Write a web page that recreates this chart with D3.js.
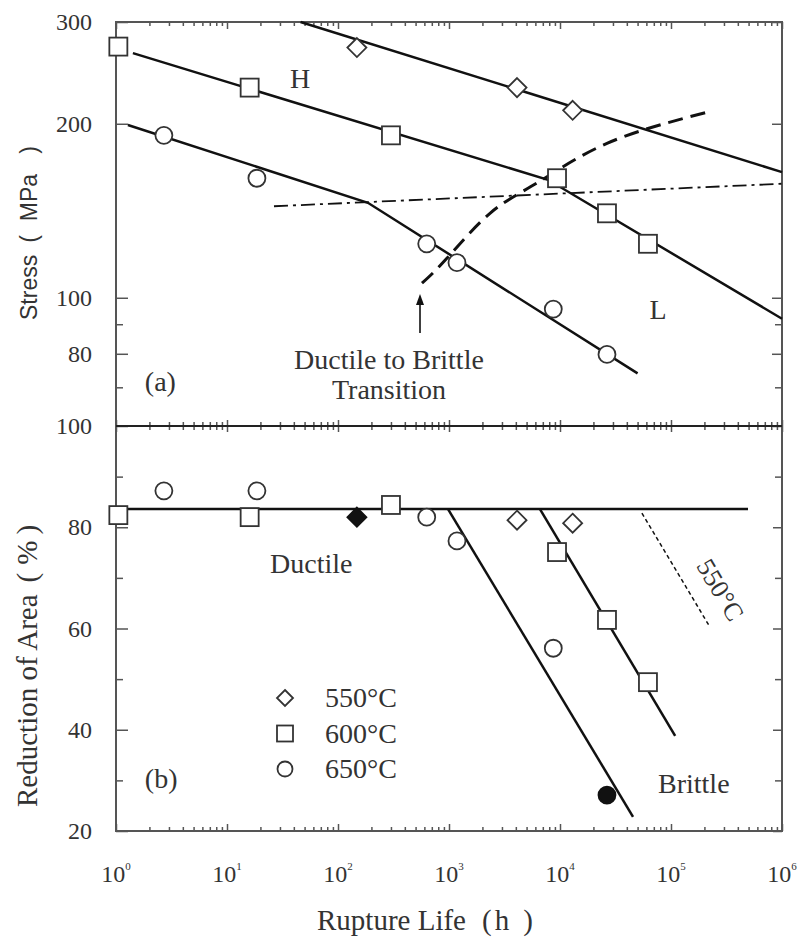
<!DOCTYPE html>
<html><head><meta charset="utf-8">
<script src="https://cdn.jsdelivr.net/npm/d3@7"></script>
<style>body{margin:0;background:#fff}</style>
</head><body>
<svg id="c" width="798" height="937"></svg>
<script>
// ---------- data ----------
const xMajorTicks = [1, 10, 100, 1000, 10000, 100000, 1000000];
const xExponents = ["0", "1", "2", "3", "4", "5", "6"];
const stressTickLabels = [300, 200, 100, 80];
const stressMinorTicks = [90, 70];
const raTickLabels = [100, 80, 60, 40, 20];
const raMinorTicks = [90, 70, 50, 30];
const tempLabels = ["550°C", "600°C", "650°C"];

// (a) stress vs rupture life  [hours, MPa]
const stress550 = [[148, 271], [4100, 231], [13000, 211]];
const stress600 = [[1.05, 272], [16, 231], [300, 191], [9400, 161], [26500, 140], [62000, 124]];
const stress650 = [[2.7, 191], [18.6, 161], [630, 124], [1180, 115], [8700, 95.6], [26500, 79.8]];
const fit550 = [[46, 300], [1000000, 165]];
const fit600 = [[1.42, 265], [7800, 160], [1000000, 92]];
const fit650 = [[1.28, 199], [186, 146], [50000, 74]];
const hlBoundary = [[26.5, 144], [1000000, 157.5]];
const transitionCurve = [[571, 106], [957, 117], [2340, 140], [6210, 158], [26500, 185], [203000, 209]];
const transitionArrow = [[548, 86.9], [548, 101.5]];

// (b) reduction of area vs rupture life  [hours, %]
const ra550 = [[4100, 81.4], [13000, 80.8]];
const ra550Filled = [[148, 82.0]];
const ra600 = [[1.05, 82.4], [16, 82.0], [300, 84.4], [9400, 75.1], [26500, 61.7], [62000, 49.4]];
const ra650 = [[2.7, 87.2], [18.6, 87.2], [630, 82.0], [1180, 77.3], [8700, 56.1]];
const ra650Filled = [[26500, 27.1]];
const ductileLine = [[1, 83.6], [494000, 83.6]];
const brittle650 = [[980, 83.6], [45500, 22.8]];
const brittle600 = [[6600, 83.6], [109000, 38.8]];
const brittle550 = [[54700, 82.8], [224000, 60.3]];

// ---------- layout ----------
const L = 116, R = 782, T = 22, MID = 426, B = 831;
const serif = "'Liberation Serif','Times New Roman',serif";
const sans = "'Liberation Sans',Arial,sans-serif";
const ink = "#333", axisC = "#555", lineC = "#111";

const x = d3.scaleLog().domain([1, 1e6]).range([L, R]);
const yS = d3.scaleLog().domain([60, 300]).range([MID, T]);
const yR = d3.scaleLinear().domain([20, 100]).range([B, MID]);

const svg = d3.select("#c");
svg.append("rect").attr("width", 798).attr("height", 937).attr("fill", "#fff");

const xMinor = [];
for (let k = 0; k < 6; k++) for (let m = 2; m <= 9; m++) xMinor.push(m * Math.pow(10, k));

function styleAxis(g, size) {
  g.select(".domain").remove();
  g.selectAll("line").attr("stroke", axisC).attr("stroke-width", 1.5);
  g.selectAll("text").attr("font-family", serif).attr("font-size", size || 24).attr("fill", ink);
}
function addAxis(axis, tx, ty, size) {
  const g = svg.append("g").attr("transform", `translate(${tx},${ty})`).call(axis);
  styleAxis(g, size);
  return g;
}
// x ticks: top (down), middle (both), bottom (up)
addAxis(d3.axisBottom(x).tickValues(xMajorTicks).tickSize(7).tickFormat(""), 0, T);
addAxis(d3.axisBottom(x).tickValues(xMinor).tickSize(4).tickFormat(""), 0, T);
addAxis(d3.axisBottom(x).tickValues(xMajorTicks).tickSize(6).tickFormat(""), 0, MID);
addAxis(d3.axisTop(x).tickValues(xMajorTicks).tickSize(6).tickFormat(""), 0, MID);
addAxis(d3.axisBottom(x).tickValues(xMinor).tickSize(4).tickFormat(""), 0, MID);
addAxis(d3.axisTop(x).tickValues(xMinor).tickSize(4).tickFormat(""), 0, MID);
addAxis(d3.axisTop(x).tickValues(xMajorTicks).tickSize(7).tickFormat(""), 0, B);
addAxis(d3.axisTop(x).tickValues(xMinor).tickSize(4).tickFormat(""), 0, B);

// y ticks top panel
addAxis(d3.axisLeft(yS).tickValues(stressTickLabels).tickSize(-12).tickPadding(24).tickFormat(d3.format("d")), L, 0);
addAxis(d3.axisLeft(yS).tickValues(stressMinorTicks).tickSize(-7).tickFormat(""), L, 0);
addAxis(d3.axisLeft(yS).tickValues(stressTickLabels).tickSize(10).tickFormat(""), R, 0);
addAxis(d3.axisLeft(yS).tickValues(stressMinorTicks).tickSize(7).tickFormat(""), R, 0);
// y ticks bottom panel
addAxis(d3.axisLeft(yR).tickValues(raTickLabels).tickSize(-12).tickPadding(24).tickFormat(d3.format("d")), L, 0);
addAxis(d3.axisLeft(yR).tickValues(raMinorTicks).tickSize(-7).tickFormat(""), L, 0);
addAxis(d3.axisLeft(yR).tickValues(raTickLabels).tickSize(9).tickFormat(""), R, 0);
addAxis(d3.axisLeft(yR).tickValues(raMinorTicks).tickSize(7).tickFormat(""), R, 0);

// frame
svg.append("rect").attr("x", L).attr("y", T).attr("width", R - L).attr("height", B - T)
  .attr("fill", "none").attr("stroke", axisC).attr("stroke-width", 2);
svg.append("line").attr("x1", L).attr("x2", R).attr("y1", MID).attr("y2", MID)
  .attr("stroke", "#222").attr("stroke-width", 2);

// x tick labels 10^n
xMajorTicks.forEach((v, i) => {
  const t = svg.append("text").attr("x", x(v)).attr("y", 882).attr("text-anchor", "middle")
    .attr("font-family", serif).attr("font-size", 24).attr("fill", ink);
  t.append("tspan").text("10");
  t.append("tspan").attr("font-size", 11).attr("dy", -12).text(xExponents[i]);
});

// ---------- marks ----------
function drawLine(data, yScale, opts) {
  const gen = d3.line().x(d => x(d[0])).y(d => yScale(d[1]));
  if (opts.curve) gen.curve(opts.curve);
  svg.append("path").attr("d", gen(data)).attr("fill", "none")
    .attr("stroke", lineC).attr("stroke-width", opts.w || 2.5)
    .attr("stroke-dasharray", opts.dash || null);
}
function drawMarkers(data, yScale, shape, filled, sz) {
  const g = svg.append("g");
  data.forEach(d => drawShape(g, x(d[0]), yScale(d[1]), shape, filled, sz));
}
function drawShape(g, cx, cy, shape, filled, sz) {
  const fill = filled ? "#111" : "#fff";
  const stroke = filled ? "#111" : "#333";
  let el;
  if (shape === "square") {
    const s = sz || 18;
    el = g.append("rect").attr("x", cx - s / 2).attr("y", cy - s / 2).attr("width", s).attr("height", s);
  } else if (shape === "circle") {
    el = g.append("circle").attr("cx", cx).attr("cy", cy).attr("r", sz || 8.5);
  } else {
    const h = sz || 9.5;
    el = g.append("path").attr("d", `M${cx},${cy - h}L${cx + h},${cy}L${cx},${cy + h}L${cx - h},${cy}Z`);
  }
  el.attr("fill", fill).attr("stroke", stroke).attr("stroke-width", 1.8);
}

// panel (a)
drawLine(fit550, yS, {});
drawLine(fit600, yS, {});
drawLine(fit650, yS, {});
drawLine(hlBoundary, yS, { w: 1.8, dash: "14,5,3,5" });
drawLine(transitionCurve, yS, { w: 3, dash: "15,8", curve: d3.curveNatural });
drawMarkers(stress550, yS, "diamond", false);
drawMarkers(stress600, yS, "square", false);
drawMarkers(stress650, yS, "circle", false);

// arrow
(function () {
  const ax = x(transitionArrow[0][0]);
  const y0 = yS(transitionArrow[0][1]), y1 = yS(transitionArrow[1][1]);
  svg.append("line").attr("x1", ax).attr("x2", ax).attr("y1", y0).attr("y2", y1 + 8)
    .attr("stroke", lineC).attr("stroke-width", 1.6);
  svg.append("path").attr("d", `M${ax},${y1}L${ax + 4},${y1 + 11}L${ax - 4},${y1 + 11}Z`).attr("fill", lineC);
})();

// panel (b)
drawLine(ductileLine, yR, {});
drawLine(brittle650, yR, {});
drawLine(brittle600, yR, {});
drawLine(brittle550, yR, { w: 1.5, dash: "4,3" });
drawMarkers(ra550, yR, "diamond", false);
drawMarkers(ra550Filled, yR, "diamond", true);
drawMarkers(ra600, yR, "square", false);
drawMarkers(ra650, yR, "circle", false);
drawMarkers(ra650Filled, yR, "circle", true);

// ---------- annotations ----------
function label(txt, px, py, size, anchor, font) {
  return svg.append("text").attr("x", px).attr("y", py).attr("text-anchor", anchor || "start")
    .attr("font-family", font || serif).attr("font-size", size).attr("fill", ink).text(txt);
}
label("H", x(45.5), yS(231), 28, "middle");
label("L", x(76400), yS(91.9), 28, "middle");
label("Ductile to Brittle", x(288), yS(75.2), 28, "middle");
label("Transition", x(288), yS(66.7), 28, "middle");
label("(a)", x(1.82), yS(68.9), 28);
label("(b)", x(1.82), yR(28.5), 28);
label("Ductile", x(24.4), yR(71.0), 28);
label("Brittle", x(76400), yR(27.5), 28);
svg.append("text").attr("transform", `translate(${x(277000)},${yR(67.6)}) rotate(59)`)
  .attr("text-anchor", "middle").attr("dominant-baseline", "central")
  .attr("font-family", serif).attr("font-size", 26).attr("fill", ink).text("550°C");

// legend
const legendShapes = ["diamond", "square", "circle"];
const legendSizes = [8, 16, 7.5];
const lg = svg.append("g");
tempLabels.forEach((t, i) => {
  const cy = 698 + i * 35.5;
  drawShape(lg, 285, cy, legendShapes[i], false, legendSizes[i]);
  lg.append("text").attr("x", 325).attr("y", cy + 9).attr("font-family", serif)
    .attr("font-size", 28).attr("fill", ink).text(t);
});

// axis titles
(function () {
  const t = svg.append("text").attr("font-family", serif).attr("font-size", 29).attr("fill", ink)
    .attr("x", 317).attr("y", 930);
  t.append("tspan").text("Rupture Life");
  t.append("tspan").attr("dx", 16).text("(");
  t.append("tspan").attr("dx", 3).text("h");
  t.append("tspan").attr("dx", 14).text(")");

  const s = svg.append("text").attr("transform", "translate(37,320) rotate(-90)")
    .attr("font-family", sans).attr("font-size", 23).attr("fill", ink);
  s.append("tspan").text("Stress");
  s.append("tspan").attr("dx", 12).text("(");
  s.append("tspan").attr("dx", 14).text("MPa");
  s.append("tspan").attr("dx", 20).text(")");

  const r = svg.append("text").attr("transform", "translate(37,807) rotate(-90)")
    .attr("font-family", serif).attr("font-size", 29).attr("fill", ink);
  r.append("tspan").text("Reduction of Area");
  r.append("tspan").attr("dx", 12).text("(");
  r.append("tspan").attr("dx", 8).text("%");
  r.append("tspan").attr("dx", 6).text(")");
})();
</script>
</body></html>
